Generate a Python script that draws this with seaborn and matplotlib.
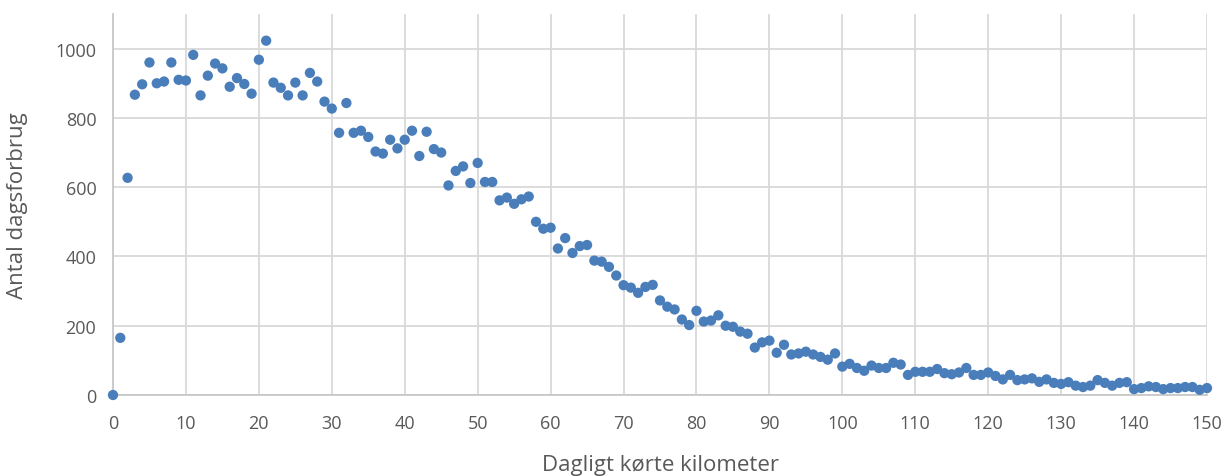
import numpy as np
import pandas as pd
import matplotlib
matplotlib.use('Agg')
import matplotlib.pyplot as plt
import seaborn as sns

# km per day (0..150) and number of day-usages
km = list(range(0, 151))
antal = [
    0, 165, 627, 867, 897, 960, 900, 905, 960, 910,
    908, 982, 865, 922, 957, 943, 890, 915, 898, 870,
    968, 1023, 902, 887, 865, 902, 865, 930, 905, 847,
    827, 757, 843, 757, 763, 745, 703, 697, 737, 712,
    737, 763, 690, 760, 710, 700, 605, 647, 660, 612,
    670, 615, 615, 562, 570, 552, 565, 573, 500, 480,
    483, 423, 453, 410, 430, 433, 388, 385, 370, 345,
    317, 310, 295, 312, 318, 273, 255, 247, 218, 202,
    243, 212, 215, 230, 200, 197, 183, 177, 137, 152,
    157, 122, 145, 117, 120, 125, 117, 110, 102, 120,
    82, 90, 78, 70, 85, 78, 78, 93, 88, 58,
    67, 67, 67, 75, 63, 60, 65, 78, 58, 58,
    65, 55, 45, 58, 43, 45, 48, 38, 45, 35,
    32, 37, 27, 23, 27, 43, 35, 27, 35, 37,
    17, 20, 25, 23, 17, 20, 20, 23, 23, 15,
    20,
]
x_ticks = list(range(0, 151, 10))
y_ticks = [0, 200, 400, 600, 800, 1000]

df = pd.DataFrame({'km': km, 'antal': antal})

sns.set_style('white')
plt.rcParams['font.family'] = ['Open Sans', 'DejaVu Sans']
grey = '#595959'

fig = plt.figure(figsize=(12.26, 4.77), dpi=100)
ax = fig.add_axes([113 / 1226, 1 - 396 / 477, (1207 - 113) / 1226, (396 - 15) / 477])

ax.set_axisbelow(True)
ax.grid(True, color='#d9d9d9', linewidth=1.3)
sns.scatterplot(data=df, x='km', y='antal', ax=ax, color='#4a7ebb', s=55,
                edgecolor='none', clip_on=False, zorder=3)

ax.set_xlim(0, 150)
ax.set_ylim(0, 1100)
ax.set_xticks(x_ticks)
ax.set_yticks(y_ticks)
ax.tick_params(axis='both', length=0, labelsize=13, colors=grey)
ax.tick_params(axis='x', pad=14)
ax.tick_params(axis='y', pad=12)

for side in ['top', 'right']:
    ax.spines[side].set_visible(False)
for side in ['left', 'bottom']:
    ax.spines[side].set_color('#c8c8c8')
    ax.spines[side].set_linewidth(1.3)

ax.set_xlabel('Dagligt kørte kilometer', fontsize=16, color=grey)
ax.set_ylabel('Antal dagsforbrug', fontsize=16, color=grey)
ax.xaxis.set_label_coords(0.5, -0.155)
ax.yaxis.set_label_coords(-0.078, 0.5)

fig.savefig('out.png', dpi=100)
